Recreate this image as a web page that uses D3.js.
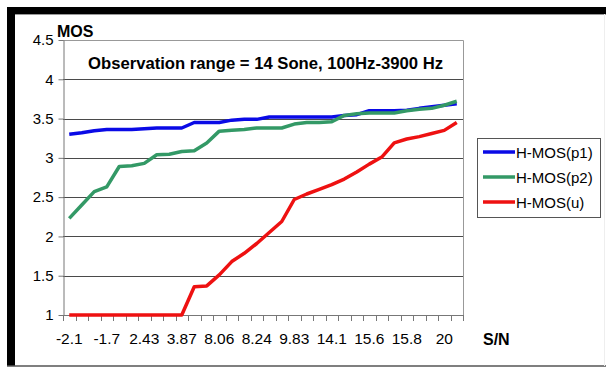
<!DOCTYPE html>
<html>
<head>
<meta charset="utf-8">
<script src="https://cdn.jsdelivr.net/npm/d3@7"></script>
<style>
  body { margin: 0; background: #fff; }
  svg { display: block; font-family: "Liberation Sans", Arial, sans-serif; }
</style>
</head>
<body>
<div id="chart"></div>
<script>
// S/N categories (only every 3rd label is shown on the axis)
const categories = [
  "-2.1", "-2.0", "-1.9", "-1.7", "-0.5", "1.2", "2.43", "2.9", "3.5", "3.87",
  "5.2", "6.9", "8.06", "8.1", "8.2", "8.24", "8.9", "9.4", "9.83", "11.2",
  "12.8", "14.1", "14.6", "15.1", "15.6", "15.7", "15.75", "15.8", "17.3", "18.7",
  "20", "21.4"
];

const mosP1 = [
  3.30, 3.32, 3.345, 3.36, 3.36, 3.36, 3.37, 3.38, 3.38, 3.38,
  3.45, 3.45, 3.45, 3.48, 3.49, 3.49, 3.52, 3.52, 3.52, 3.52,
  3.52, 3.52, 3.54, 3.55, 3.60, 3.60, 3.60, 3.605, 3.63, 3.65,
  3.67, 3.69
];

const mosP2 = [
  2.23, 2.40, 2.57, 2.63, 2.89, 2.90, 2.93, 3.04, 3.045, 3.08,
  3.09, 3.19, 3.34, 3.35, 3.36, 3.38, 3.38, 3.38, 3.43, 3.45,
  3.45, 3.46, 3.54, 3.56, 3.57, 3.57, 3.57, 3.60, 3.62, 3.63,
  3.67, 3.72
];

const mosU = [
  1, 1, 1, 1, 1, 1, 1, 1, 1, 1,
  1.36, 1.37, 1.51, 1.68, 1.785, 1.91, 2.05, 2.19, 2.47, 2.54,
  2.60, 2.66, 2.73, 2.82, 2.92, 3.01, 3.19, 3.24, 3.27, 3.31,
  3.35, 3.45
];

const seriesNames = ["H-MOS(p1)", "H-MOS(p2)", "H-MOS(u)"];
const seriesColors = ["#0a0ae6", "#339966", "#ee1111"];
const yTicks = [1, 1.5, 2, 2.5, 3, 3.5, 4, 4.5];

const series = [mosP1, mosP2, mosU].map((values, k) => ({
  name: seriesNames[k],
  color: seriesColors[k],
  values: values
}));

var width = 606;
var height = 367;
var plotLeft = 63, plotRight = 463, plotTop = 40, plotBottom = 315;

var svg = d3.select("#chart")
  .append("svg")
  .attr("width", width)
  .attr("height", height);

// Outer frame (black bands on top and left, grey at the bottom)
svg.append("rect").attr("x", 7).attr("y", 7).attr("width", 599).attr("height", 7).attr("fill", "#000");
svg.append("line").attr("x1", 7).attr("x2", 606).attr("y1", 14.5).attr("y2", 14.5).attr("stroke", "#999");
svg.append("rect").attr("x", 7).attr("y", 7).attr("width", 8).attr("height", 359).attr("fill", "#000");
svg.append("line").attr("x1", 7).attr("x2", 606).attr("y1", 366).attr("y2", 366).attr("stroke", "#555").attr("stroke-width", 1.5);
svg.append("line").attr("x1", 604.5).attr("x2", 604.5).attr("y1", 14).attr("y2", 366).attr("stroke", "#eee");

var x = d3.scaleBand()
  .domain(d3.range(categories.length))
  .range([plotLeft, plotRight]);

var xEdge = d3.scaleLinear()
  .domain([0, categories.length])
  .range([plotLeft, plotRight]);

var y = d3.scaleLinear()
  .domain([1, 4.5])
  .range([plotBottom, plotTop]);

// Grid lines
svg.append("g")
  .selectAll("line")
  .data(yTicks.filter((t) => t > 1 && t < 4.5))
  .enter()
  .append("line")
  .attr("x1", plotLeft)
  .attr("x2", plotRight)
  .attr("y1", (d) => Math.round(y(d)) + 0.5)
  .attr("y2", (d) => Math.round(y(d)) + 0.5)
  .attr("stroke", "#4a4a4a")
  .attr("stroke-width", 1);

// Plot frame (top and right)
svg.append("path")
  .attr("d", "M" + plotLeft + "," + (plotTop + 0.5) + "H" + (plotRight + 0.5) + "V" + plotBottom)
  .attr("fill", "none")
  .attr("stroke", "#999");

// Y axis
var yAxis = svg.append("g")
  .attr("transform", "translate(" + (plotLeft + 0.5) + ",0)")
  .call(d3.axisLeft(y).tickValues(yTicks).tickSize(5).tickSizeOuter(0).tickPadding(5).tickFormat((d) => String(d)));
yAxis.select(".domain").attr("stroke", "#777");
yAxis.selectAll(".tick line").attr("stroke", "#777");
yAxis.selectAll("text")
  .attr("fill", "#000")
  .style("font-size", "15px")
  .style("font-family", "'Liberation Sans', Arial, sans-serif");

// X axis: boundary ticks
var xAxisG = svg.append("g");
xAxisG.append("line")
  .attr("x1", plotLeft)
  .attr("x2", plotRight + 0.5)
  .attr("y1", plotBottom + 0.5)
  .attr("y2", plotBottom + 0.5)
  .attr("stroke", "#777");
xAxisG.selectAll(".edge")
  .data(d3.range(categories.length + 1))
  .enter()
  .append("line")
  .attr("class", "edge")
  .attr("x1", (d) => Math.round(xEdge(d)) + 0.5)
  .attr("x2", (d) => Math.round(xEdge(d)) + 0.5)
  .attr("y1", plotBottom)
  .attr("y2", plotBottom + 6)
  .attr("stroke", "#777");

// X labels, every 3rd category
xAxisG.selectAll(".xlab")
  .data(d3.range(0, categories.length, 3))
  .enter()
  .append("text")
  .attr("class", "xlab")
  .attr("x", (d) => x(d) + x.bandwidth() / 2)
  .attr("y", 344)
  .attr("text-anchor", "middle")
  .style("font-size", "15.5px")
  .text((d) => categories[d]);

// Lines
var line = d3.line()
  .x((d, i) => x(i) + x.bandwidth() / 2)
  .y((d) => y(d));

svg.selectAll(".series")
  .data(series)
  .enter()
  .append("path")
  .attr("class", "series")
  .attr("d", (d) => line(d.values))
  .attr("fill", "none")
  .attr("stroke", (d) => d.color)
  .attr("stroke-width", 3.5)
  .attr("stroke-linejoin", "round");

// Axis titles and annotation
svg.append("text")
  .attr("x", 57)
  .attr("y", 37)
  .style("font-size", "16px")
  .style("font-weight", "bold")
  .text("MOS");

svg.append("text")
  .attr("x", 483)
  .attr("y", 345)
  .style("font-size", "16px")
  .style("font-weight", "bold")
  .text("S/N");

svg.append("text")
  .attr("x", 88)
  .attr("y", 69)
  .attr("textLength", 355)
  .attr("lengthAdjust", "spacingAndGlyphs")
  .style("font-size", "16px")
  .style("font-weight", "bold")
  .text("Observation range = 14 Sone, 100Hz-3900 Hz");

// Legend
var legend = svg.append("g").attr("transform", "translate(477,138)");
legend.append("rect")
  .attr("x", 0.5)
  .attr("y", 0.5)
  .attr("width", 123)
  .attr("height", 79)
  .attr("fill", "#fff")
  .attr("stroke", "#555");

var legendItem = legend.selectAll(".item")
  .data(series)
  .enter()
  .append("g")
  .attr("class", "item")
  .attr("transform", (d, i) => "translate(0," + (14 + i * 25) + ")");

legendItem.append("line")
  .attr("x1", 6)
  .attr("x2", 38)
  .attr("y1", 0)
  .attr("y2", 0)
  .attr("stroke", (d) => d.color)
  .attr("stroke-width", 3.5);

legendItem.append("text")
  .attr("x", 39)
  .attr("y", 5.5)
  .style("font-size", "15px")
  .text((d) => d.name);
</script>
</body>
</html>
